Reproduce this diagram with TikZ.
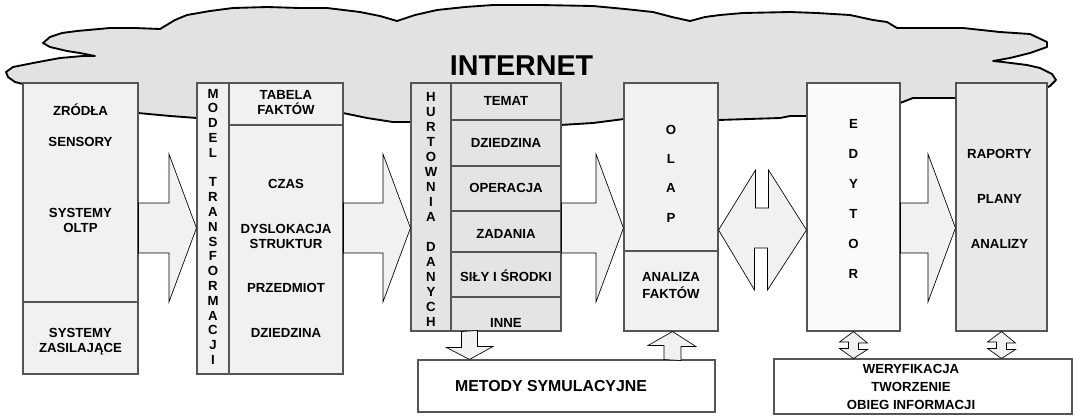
\documentclass[tikz,border=0pt]{standalone}
\usepackage{fontspec}
\setmainfont{Liberation Sans}
\usetikzlibrary{fit,calc}
\definecolor{cloudgray}{RGB}{225,226,228}
\definecolor{paleblock}{RGB}{240,241,243}
\definecolor{midblock}{RGB}{227,228,230}
\definecolor{whiteblock}{RGB}{250,250,250}
\definecolor{greyblock}{RGB}{231,232,234}
\definecolor{edgegray}{RGB}{85,85,85}

\begin{document}
\begin{tikzpicture}[
  x=0.75pt, y=-0.75pt,
  box/.style={draw=edgegray, line width=0.8pt, fill=paleblock, inner sep=0pt},
  part/.style={draw=edgegray, line width=0.8pt},
  lbl/.style={font=\bfseries\fontsize{9.9}{11.25}\selectfont, align=center, inner sep=0pt, anchor=base},
  spread/.style={lbl, font=\bfseries\fontsize{9.9}{#1}\selectfont},
  fatarr/.style={draw=black, line width=0.5pt, fill=paleblock, line join=miter},
  cloudline/.style={draw=black, line width=1.4pt, fill=cloudgray, line join=round},
]
\useasboundingbox (0,0) rectangle (1073,415);
% ---- internet cloud (lower edge runs behind the boxes) ----
\draw[cloudline] (23,84) -- (15,82) -- (8,77) -- (6,72) -- (13,67) -- (33,63) -- (60,58) -- (83,56) -- (95,56)
  -- (80,53) -- (67,51) -- (50,47) -- (43,43) -- (50,37) -- (62,33) -- (77,31) -- (110,28) -- (135,28) -- (160,29)
  -- (175,20) -- (187,15) -- (210,11) -- (233,8) -- (267,7) -- (300,8) -- (327,8) -- (360,12) -- (380,16) -- (397,21)
  -- (415,15) -- (437,10) -- (465,7) -- (493,5) -- (540,5) -- (593,6) -- (625,9) -- (653,12) -- (672,17) -- (690,21)
  -- (705,17) -- (720,15) -- (743,13) -- (790,12) -- (817,13) -- (850,15) -- (873,20) -- (887,22) -- (897,28)
  -- (930,28) -- (963,28) -- (1000,32) -- (1030,34) -- (1047,42) -- (1047,47) -- (1030,53) -- (1010,58) -- (993,61)
  -- (1003,62) -- (1027,65) -- (1040,68) -- (1052,74) -- (1056,80) -- (1050,86) -- (1046,88)
  -- (1000,100) -- (956,98) -- (913,98) -- (900,103) -- (880,110) -- (807,116) -- (790,116) -- (780,118) -- (718,120)
  -- (700,120) -- (624,119) -- (593,123) -- (560,125) -- (500,125) -- (410,122) -- (393,122) -- (367,118) -- (343,113)
  -- (300,115) -- (197,118) -- (170,116) -- (138,113) -- (80,100) -- cycle;
\node[font=\bfseries\fontsize{21.5}{24}\selectfont, inner sep=0pt, anchor=base] (inet) at (521.5,75) {INTERNET};
% ---- blocks ----
\node[box, fit={(23,83)(138,374)}] (src) {};
\node[box, fit={(197,83)(343,374)}] (model) {};
\node[box, fill=midblock, fit={(411,83)(561,331)}] (hurt) {};
\node[box, fit={(624,83)(718,331)}] (olap) {};
\node[box, fill=whiteblock, fit={(807,83)(900,331)}] (edytor) {};
\node[box, fill=greyblock, fit={(956,83)(1047,331)}] (raport) {};
\node[box, fill=white, fit={(418,360)(715,412)}] (metody) {};
\node[box, fill=white, fit={(774,359)(1072,414)}] (weryf) {};
% inner divisions
\draw[part] (src.west |- 0,302) -- (src.east |- 0,302);
\draw[part] (229,83) -- (229,374);
\draw[part] (229,125) -- (model.east |- 0,125);
\draw[part] (451,83) -- (451,331);
\foreach \yy in {120,166,211,252,297}
  \draw[part] (451,\yy) -- (hurt.east |- 0,\yy);
\draw[part] (olap.west |- 0,251) -- (olap.east |- 0,251);
% ---- block arrows ----
\coordinate (axis) at (0,228);
\coordinate (shtop) at (0,203);
\coordinate (shbot) at (0,253);
\coordinate (hdtop) at (0,154);
\coordinate (hdbot) at (0,302);
\foreach \a/\b in {src/model, model/hurt, hurt/olap, edytor/raport}
  \draw[fatarr] (\a.east |- shtop) -- ($(\b.west |- shtop)+(-27.5,0)$) -- ($(\b.west |- hdtop)+(-27.5,0)$)
    -- (\b.west |- axis) -- ($(\b.west |- hdbot)+(-27.5,0)$) -- ($(\b.west |- shbot)+(-27.5,0)$)
    -- (\a.east |- shbot) -- cycle;
\coordinate (dax) at (0,230);
\draw[fatarr] (olap.east |- dax) -- ++(37,-60) -- ++(0,38) -- ++(13,0) -- ++(0,-38) -- (edytor.west |- dax)
  -- ++(-39,60) -- ++(0,-42) -- ++(-13,0) -- ++(0,42) -- cycle;
\coordinate (dn) at (469.5,0);
\coordinate (up) at (672.5,0);
\draw[fatarr] ($(hurt.south -| dn)+(-8,0)$) -- ++(0,16) -- ++(-15,0) -- (metody.north -| dn)
  -- ++(23.5,-13) -- ++(-15.5,0) -- ++(0,-16) -- cycle;
\draw[fatarr] ($(metody.north -| up)+(-8.5,0)$) -- ++(0,-14) -- ++(-16,0) -- (olap.south -| up)
  -- ++(23.5,15) -- ++(-15,0) -- ++(0,14) -- cycle;
\foreach \n in {edytor, raport}
  \draw[fatarr] (\n.south) -- ++(14,11.5) -- ++(-9,0) -- ++(0,6.5) -- ++(9,0) -- (\n.south |- weryf.north)
    -- ++(-14,-10) -- ++(9,0) -- ++(0,-6.5) -- ++(-9,0) -- cycle;
% ---- texts (multi-line nodes sit on the baseline of their last line) ----
\node[lbl] (zrodla) at (80.5,115) {ZRÓDŁA};
\node[lbl] (sensory) at (80.5,146) {SENSORY};
\node[lbl] (oltp) at (80.5,232) {SYSTEMY\\OLTP};
\node[lbl] (zasil) at (80.5,352) {SYSTEMY\\ZASILAJĄCE};
\node[spread=11.1pt] (modeltx) at (213,364.5) {M\\O\\D\\E\\L\\ \\T\\R\\A\\N\\S\\F\\O\\R\\M\\A\\C\\J\\I};
\node[lbl] (tabela) at (286,114) {TABELA\\FAKTÓW};
\node[lbl] (czas) at (286,188) {CZAS};
\node[lbl] (dyslok) at (286,248) {DYSLOKACJA\\STRUKTUR};
\node[lbl] (przedm) at (286,292) {PRZEDMIOT};
\node[lbl] (dziedz) at (286,337) {DZIEDZINA};
\node[spread=11.25pt] (hurttx) at (431,326) {H\\U\\R\\T\\O\\W\\N\\I\\A\\ \\D\\A\\N\\Y\\C\\H};
\node[lbl] (temat) at (506,105) {TEMAT};
\node[lbl] (dziedzh) at (506,147) {DZIEDZINA};
\node[lbl] (operac) at (506,192) {OPERACJA};
\node[lbl] (zadania) at (506,238) {ZADANIA};
\node[lbl] (sily) at (506,281) {SIŁY I ŚRODKI};
\node[lbl] (inne) at (506,327) {INNE};
\node[spread=22pt] (olaptx) at (671,222) {O\\L\\A\\P};
\node[spread=12.4pt] (analiza) at (671,298) {ANALIZA\\FAKTÓW};
\node[spread=22.5pt] (edyttx) at (853.5,278) {E\\D\\Y\\T\\O\\R};
\node[spread=33.75pt] (raporttx) at (999.5,248) {RAPORTY\\PLANY\\ANALIZY};
\node[lbl, font=\bfseries\fontsize{11.9}{14}\selectfont] (metodytx) at (551,391) {METODY SYMULACYJNE};
\node[spread=13.5pt] (weryftx) at (911,409) {WERYFIKACJA\\TWORZENIE\\OBIEG INFORMACJI};
\end{tikzpicture}
\end{document}
